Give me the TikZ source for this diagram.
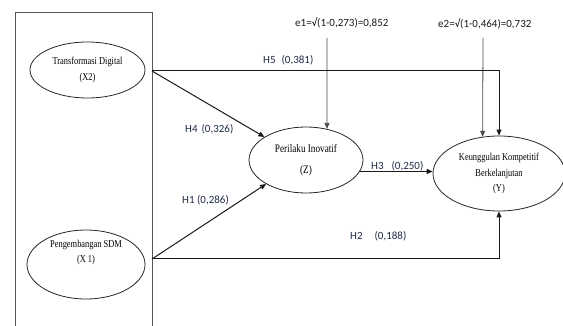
\documentclass[tikz,border=0pt]{standalone}
\usepackage{fontspec}
\setmainfont{Liberation Serif}
\newfontfamily\lblfont{Carlito}
\newfontfamily\latfont{Liberation Serif}[FakeStretch=0.8]
\usetikzlibrary{arrows.meta, shapes.geometric}

\begin{document}
\begin{tikzpicture}[
    x=1pt, y=-1pt,
    latent/.style={ellipse, draw=black!85, line width=0.8pt, inner sep=0pt,
        align=center, font=\latfont\fontsize{10.5}{15.5}\selectfont},
    pathlbl/.style={anchor=west, inner sep=0pt, text=labelcolor,
        font=\lblfont\fontsize{11}{13}\selectfont},
    errlbl/.style={anchor=west, inner sep=0pt, text=black!90,
        font=\lblfont\fontsize{11}{13}\selectfont},
    path/.style={-{Triangle[length=6pt, width=5pt]}, line width=1pt, black!90},
    errpath/.style={-{Triangle[length=6pt, width=5pt]}, line width=0.8pt, black!70},
]

\definecolor{labelcolor}{HTML}{1F2B45}   % H1..H5 coefficients
\definecolor{framecolor}{HTML}{555555}

\useasboundingbox (0,0) rectangle (563,326);

% ---------------------------------------------------------------- exogenous block
\draw[framecolor, line width=0.9pt] (15,326) -- (15,12) -- (152,12) -- (152,326);

\node[latent, minimum width=115, minimum height=56] (X2) at (87.5,70)
    {Transformasi Digital\\(X2)};
\node[latent, minimum width=118, minimum height=57, text depth=26pt] (X1) at (86,264.5)
    {Pengembangan SDM\\(X 1)};

% the paths leave from the block's right edge, not from the ellipses
\coordinate (x2port) at (152,71);
\coordinate (x1port) at (152,259);

% ---------------------------------------------------------------- mediator, outcome
\node[latent, minimum width=114, minimum height=66,
      font=\latfont\fontsize{11.5}{21}\selectfont] (Z) at (306,160)
    {Perilaku Inovatif\\(Z)};
\node[latent, minimum width=132, minimum height=75] (Y) at (499,173.5)
    {Keunggulan Kompetitif\\Berkelanjutan\\(Y)};

% ---------------------------------------------------------------- error terms
\node[errlbl] (e1) at (295,23) {e1=√(1-0,273)=0,852};
\node[errlbl] (e2) at (438,24) {e2=√(1-0,464)=0,732};
\coordinate (e1tail) at (327,38);
\coordinate (e2tail) at (483,38);

\draw[errpath] (e1tail) -- (Z.56);
\draw[errpath] (e2tail) -- (Y.114);

% ---------------------------------------------------------------- structural paths
\draw[path] (x2port) -| (Y.north);
\draw[path] (x2port) -- (Z.151);
\draw[path] (x1port) -- (Z.211);
\draw[path] (Z.-12.5) -- (Z.-12.5 -| Y.west);
\draw[path] (x1port) -| (Y.south);

\node[pathlbl] (h5) at (263,60)  {H5\hspace{6pt}(0,381)};
\node[pathlbl] (h4) at (185,129) {H4\hspace{4pt}(0,326)};
\node[pathlbl] (h1) at (182,200) {H1 (0,286)};
\node[pathlbl] (h3) at (371,166) {H3\hspace{8pt}(0,250)};
\node[pathlbl] (h2) at (350,236) {H2\hspace{12pt}(0,188)};

\end{tikzpicture}
\end{document}
